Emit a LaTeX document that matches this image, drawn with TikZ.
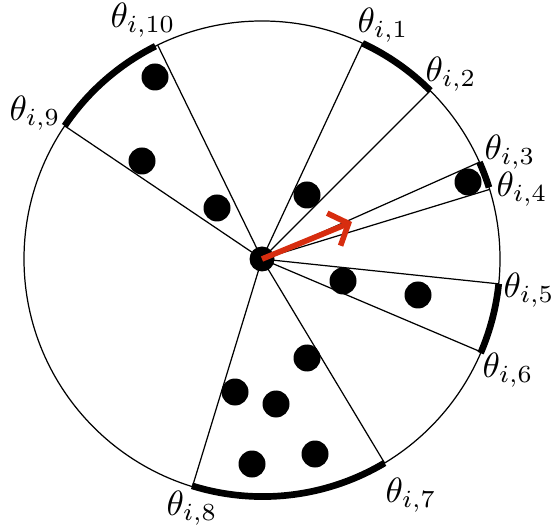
\documentclass[tikz,border=0pt]{standalone}
\usetikzlibrary{arrows.meta}

\definecolor{arrowred}{RGB}{215,45,15}

\tikzset{
  dot/.style={circle, fill=black, inner sep=0pt, minimum size=0.27cm},
  ray/.style={line width=0.35pt},
  arcline/.style={line width=1.9pt},
}

\begin{document}
\begin{tikzpicture}

\useasboundingbox (-2.62,-2.70) rectangle (2.93,2.59);

\node[draw, circle, line width=0.35pt, inner sep=0pt, outer sep=0pt, minimum size=4.76cm] (disk) at (0,0) {};

% rays from the centre
\foreach \a in {65,45,24,17.5,-6,-23.3,-59.2,-107.3,146,116.6}
  \draw[ray] (0,0) -- (disk.\a);

% marked sectors
\draw[arcline] (disk.65) arc[start angle=65, end angle=45, radius=2.38cm];
\draw[arcline] (disk.24) arc[start angle=24, end angle=17.5, radius=2.38cm];
\draw[arcline] (disk.-6) arc[start angle=-6, end angle=-23.3, radius=2.38cm];
\draw[arcline] (disk.-59.2) arc[start angle=-59.2, end angle=-107.3, radius=2.38cm];
\draw[arcline] (disk.146) arc[start angle=146, end angle=116.6, radius=2.38cm];

\node[dot, minimum size=0.25cm] (centre) at (0,0) {};

\node[dot] (d1) at (-1.07,1.82) {};
\node[dot] (d2) at (-1.20,0.98) {};
\node[dot] (d3) at (-0.45,0.51) {};
\node[dot] (d4) at (0.45,0.64) {};
\node[dot] (d5) at (2.06,0.77) {};
\node[dot] (d6) at (0.81,-0.22) {};
\node[dot] (d7) at (1.56,-0.36) {};
\node[dot] (d8) at (0.45,-0.99) {};
\node[dot] (d9) at (-0.27,-1.33) {};
\node[dot] (d10) at (0.14,-1.45) {};
\node[dot] (d11) at (-0.10,-2.05) {};
\node[dot] (d12) at (0.53,-1.95) {};

\coordinate (tip) at (0.90,0.37);
\draw[-{Straight Barb[length=4.5pt,width=10pt]}, line width=1.6pt, line join=miter, color=arrowred] (centre.center) -- (tip);

\node (t1) at (1.21,2.34) {$\theta_{i,1}$};
\node (t2) at (1.89,1.85) {$\theta_{i,2}$};
\node (t3) at (2.48,1.07) {$\theta_{i,3}$};
\node (t4) at (2.60,0.70) {$\theta_{i,4}$};
\node (t5) at (2.67,-0.31) {$\theta_{i,5}$};
\node (t6) at (2.46,-1.11) {$\theta_{i,6}$};
\node (t7) at (1.49,-2.36) {$\theta_{i,7}$};
\node (t8) at (-0.70,-2.49) {$\theta_{i,8}$};
\node (t9) at (-2.27,1.46) {$\theta_{i,9}$};
\node (t10) at (-1.19,2.39) {$\theta_{i,10}$};

\end{tikzpicture}
\end{document}
